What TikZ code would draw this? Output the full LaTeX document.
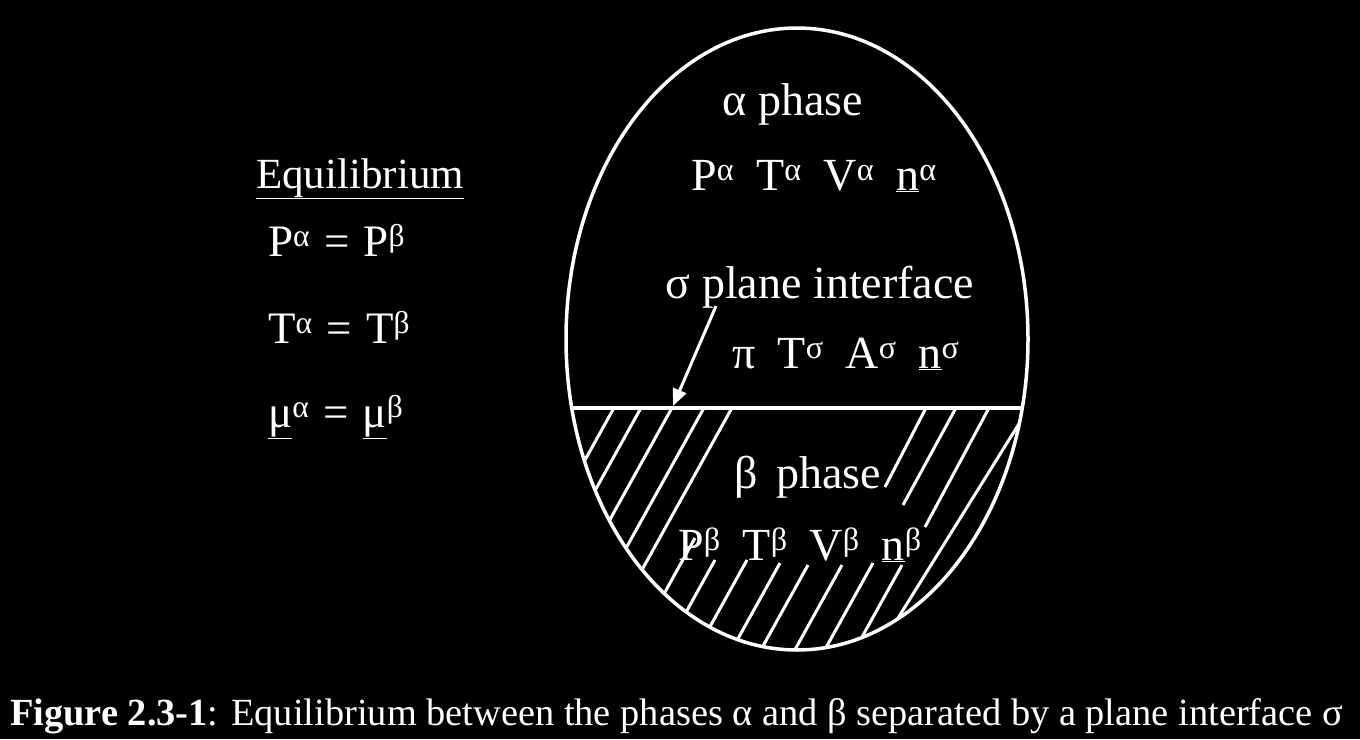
\documentclass[tikz,border=0pt]{standalone}
\usepackage{fontspec}
\setmainfont{Liberation Serif}
\usetikzlibrary{arrows.meta}
\newcommand\supr[1]{\textsuperscript{#1}}
\tikzset{
  lbl/.style={text=white, inner sep=0pt, anchor=base, font=\fontsize{46}{50}\selectfont},
  lft/.style={text=white, inner sep=0pt, anchor=base west, font=\fontsize{43}{48}\selectfont},
  eqn/.style={text=white, inner sep=0pt, anchor=base west, font=\fontsize{45}{48}\selectfont},
  hatch/.style={white, line width=3pt},
  outline/.style={white, line width=3.5pt},
}
\begin{document}
\begin{tikzpicture}[x=1pt,y=-1pt]
\fill[black] (0,0) rectangle (1360,739);
\useasboundingbox (0,0) rectangle (1360,739);
% hatching
\begin{scope}
\clip (797,339) ellipse [x radius=231, y radius=311];
\clip (500,408) rectangle (1100,700);
\foreach \x in {615,642,673,705,733}
  \draw[hatch] (\x,406) -- ++(-150,270);
\foreach \x/\y in {695/538,715/560,747/560,780/563,808/565,842/565,873/563,902/565}
  \draw[hatch] (\x,\y) -- ++(-120,216);
\draw[hatch] (927,406) -- (885,487);
\draw[hatch] (957,406) -- (903,505);
\draw[hatch] (990,406) -- (925,527);
\draw[hatch] (1040,390) -- (880,647);
\end{scope}
% outline and interface
\draw[outline] (797,339) ellipse [x radius=231, y radius=311];
\begin{scope}
\clip (797,339) ellipse [x radius=231, y radius=311];
\draw[outline] (540,408) -- (1060,408);
\end{scope}
% texts in ellipse
\node[lbl] (alpha) at (793,115) {α phase};
\node[lbl] (avars) at (814,190) {P\supr{α}\hspace{22pt}T\supr{α}\hspace{22pt}V\supr{α}\hspace{22pt}\underline{n}\supr{α}};
\node[lbl] (sigma) at (820,298) {σ plane interface};
\node[lbl] (svars) at (846,368) {π\hspace{22pt}T\supr{σ}\hspace{22pt}A\supr{σ}\hspace{22pt}\underline{n}\supr{σ}};
\node[lbl] (beta) at (808,488) {β\hspace{18pt}phase};
\node[lbl] (bvars) at (800,560) {P\supr{β}\hspace{22pt}T\supr{β}\hspace{22pt}V\supr{β}\hspace{22pt}\underline{n}\supr{β}};
% arrow
\coordinate (astart) at (716,306);
\coordinate (aend) at (673,406);
\draw[white, line width=3pt, -{Triangle[length=17pt,width=14pt]}] (astart) -- (aend);
% left equations
\node[lft] (eq) at (256,188) {\underline{Equilibrium}};
\node[eqn] (eqP) at (268,256) {P\supr{α}\hspace{14pt}=\hspace{14pt}P\supr{β}};
\node[eqn] (eqT) at (268,343) {T\supr{α}\hspace{14pt}=\hspace{14pt}T\supr{β}};
\node[eqn] (eqM) at (268,427) {\underline{μ}\supr{α}\hspace{14pt}=\hspace{14pt}\underline{μ}\supr{β}};
% caption
\node[text=white, inner sep=0pt, anchor=base west, font=\fontsize{38.4}{42}\selectfont] (cap) at (10,725) {\textbf{Figure 2.3-1}: Equilibrium between the phases α and β separated by a plane interface σ};
\end{tikzpicture}
\end{document}
